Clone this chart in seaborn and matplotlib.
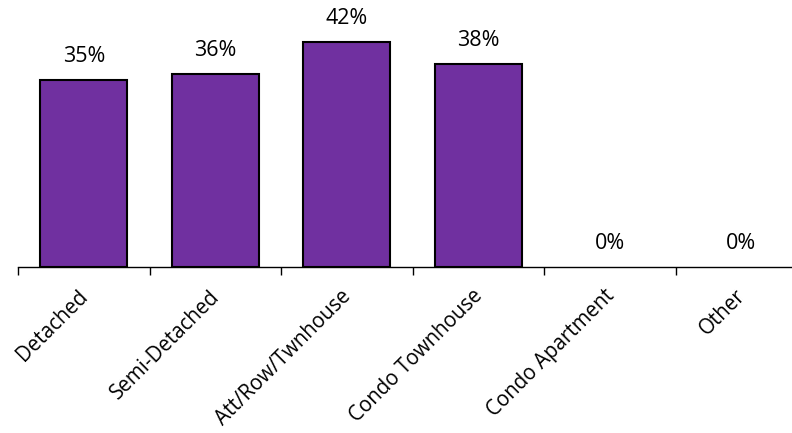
import matplotlib
matplotlib.use("Agg")
import matplotlib.pyplot as plt
import matplotlib.transforms as mtrans
import seaborn as sns
import pandas as pd
import numpy as np

categories = ["Detached", "Semi-Detached", "Att/Row/Twnhouse", "Condo Townhouse", "Condo Apartment", "Other"]
values = [35, 36, 42, 38, 0, 0]

sns.set_theme(style="white")
plt.rcParams['font.family'] = ['Open Sans', 'DejaVu Sans']

df = pd.DataFrame({"cat": categories, "val": values})

fig = plt.figure(figsize=(7.92, 4.33), dpi=100)
ax = fig.add_axes([18/792, (433-267)/433, 789/792, 45*5.35/433])
sns.barplot(data=df, x="cat", y="val", ax=ax, color="#7030A0", saturation=1,
            width=0.66, edgecolor="black", linewidth=1.5)
for p in ax.patches:
    if p.get_height() == 0:
        p.set_linewidth(0)
ax.set_xlim(-0.5, len(categories) - 0.5)
ax.set_ylim(0, 45)
ax.set_xlabel("")
ax.set_ylabel("")
ax.set_yticks([])
for s in ["left", "right", "top"]:
    ax.spines[s].set_visible(False)
ax.spines["bottom"].set_color("black")
ax.spines["bottom"].set_linewidth(1.0)

ax.set_xticks(np.arange(-0.5, len(categories) + 0.5, 1.0), minor=True)
ax.tick_params(axis="x", which="minor", length=5.5, width=1.0, color="black", direction="out", bottom=True)
ax.tick_params(axis="x", which="major", length=0, pad=13.5, bottom=True)
ax.set_xticks(range(len(categories)))
ax.set_xticklabels(categories, rotation=45, ha="right", va="top", rotation_mode="anchor",
                   fontsize=14.8, color="black")
offset = mtrans.ScaledTranslation(-6/100, 0, fig.dpi_scale_trans)
for lbl in ax.get_xticklabels():
    lbl.set_transform(lbl.get_transform() + offset)

for i, v in enumerate(values):
    ax.annotate(f"{v}%", xy=(i, v), xytext=(0, 9.5), textcoords="offset points",
                ha="center", va="bottom", fontsize=15.5, color="black")

fig.savefig("out.png", dpi=100)
